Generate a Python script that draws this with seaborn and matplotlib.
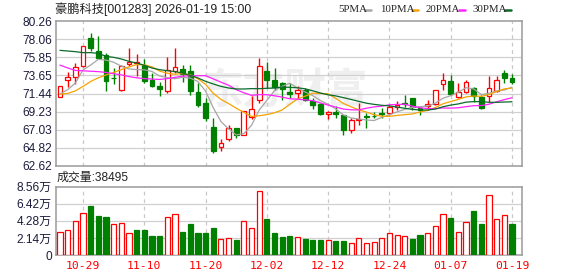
import numpy as np
import pandas as pd
import matplotlib
matplotlib.use("Agg")
import matplotlib.pyplot as plt
from matplotlib.lines import Line2D
import seaborn as sns

# ---------------- data ----------------
dates = ["10-24", "10-27", "10-28", "10-29", "10-30", "10-31",
         "11-03", "11-04", "11-05", "11-06", "11-07",
         "11-10", "11-11", "11-12", "11-13", "11-14",
         "11-17", "11-18", "11-19", "11-20", "11-21",
         "11-24", "11-25", "11-26", "11-27", "11-28",
         "12-01", "12-02", "12-03", "12-04", "12-05",
         "12-08", "12-09", "12-10", "12-11", "12-12",
         "12-15", "12-16", "12-17", "12-18", "12-19",
         "12-22", "12-23", "12-24", "12-25", "12-26",
         "12-29", "12-30", "12-31",
         "01-05", "01-06", "01-07", "01-08", "01-09",
         "01-12", "01-13", "01-14", "01-15", "01-16",
         "01-19"]

open_ = [71.05, 73.04, 73.49, 74.75, 78.19, 76.61, 76.08, 73.35, 71.83, 75.07,
         75.15, 74.95, 73.08, 72.39, 71.70, 74.14, 74.42, 74.22, 71.62, 70.28,
         67.32, 64.89, 65.95, 67.24, 66.43, 68.58, 70.61, 74.22, 73.12, 72.68,
         71.62, 71.54, 71.91, 70.49, 70.16, 68.99, 69.15, 68.78, 67.04, 68.18,
         68.70, 68.74, 69.11, 69.07, 69.76, 70.25, 70.93, 69.72, 69.96, 70.12,
         72.56, 73.00, 71.02, 71.66, 72.07, 71.06, 71.14, 71.74, 73.89, 73.37]
close = [72.31, 73.41, 74.62, 77.18, 76.98, 75.76, 73.00, 73.29, 74.83, 75.31,
         75.27, 72.92, 72.31, 72.03, 74.30, 74.62, 73.81, 71.79, 70.00, 68.46,
         64.49, 65.46, 67.24, 66.35, 69.27, 69.55, 74.75, 73.12, 72.23, 71.95,
         71.38, 71.87, 70.69, 70.00, 68.95, 69.15, 68.99, 67.04, 68.18, 68.30,
         68.58, 68.66, 68.99, 69.76, 70.05, 70.12, 69.84, 69.43, 70.12, 71.87,
         73.08, 71.38, 71.58, 72.80, 71.14, 69.64, 72.15, 73.04, 73.37, 72.88]
high = [72.40, 74.02, 75.15, 77.27, 78.80, 78.44, 76.37, 74.54, 74.91, 76.98,
        76.25, 75.60, 73.93, 72.80, 75.84, 76.98, 74.87, 74.95, 72.72, 70.89,
        68.46, 65.91, 67.57, 67.30, 69.30, 71.10, 75.76, 75.27, 74.54, 72.80,
        72.72, 72.31, 72.11, 70.89, 70.28, 69.35, 69.88, 68.80, 68.46, 70.28,
        69.07, 69.15, 69.68, 70.00, 70.49, 71.26, 70.95, 69.84, 70.65, 71.90,
        73.97, 73.69, 72.68, 73.04, 72.27, 71.26, 73.57, 73.57, 74.30, 73.77]
low = [71.00, 72.23, 72.64, 74.62, 76.65, 75.64, 71.79, 72.64, 71.79, 74.83,
       73.61, 72.72, 72.19, 71.18, 71.50, 73.93, 72.84, 71.22, 69.76, 68.05,
       64.24, 64.49, 65.70, 66.03, 66.35, 68.38, 70.28, 72.11, 71.91, 70.69,
       70.89, 70.89, 70.49, 69.60, 68.87, 68.38, 68.46, 66.43, 66.63, 67.65,
       67.24, 68.46, 68.46, 68.87, 69.48, 69.84, 69.43, 68.83, 69.55, 70.04,
       71.87, 71.26, 70.85, 71.46, 70.37, 69.55, 70.45, 71.58, 72.76, 72.60]
volume = [28400, 31300, 42200, 52600, 61400, 48900, 47600, 38400, 39700, 27100,
          31300, 31300, 23800, 23800, 47600, 50900, 28800, 38800, 27600, 27600,
          33800, 20000, 21300, 18800, 42600, 33800, 80200, 45500, 27600, 22500,
          23800, 22500, 20000, 18800, 18800, 18800, 17500, 17500, 15000, 20900,
          15000, 15900, 20900, 27100, 24600, 23400, 20000, 25100, 27100, 35900,
          50900, 46400, 28400, 40900, 55100, 38800, 74800, 45100, 49700, 38495]

# moving-average values at the start of the window (read from the chart,
# they depend on sessions before the first visible candle)
ma5_lead = [71.38, 71.90, 72.70, 74.30]
ma10_lead = [71.35, 71.45, 71.75, 72.30, 72.90, 73.35, 73.70, 74.00, 74.35]
ma20_lead = [74.90, 74.55, 74.25, 74.20, 74.15, 74.10, 74.00, 73.85, 73.70, 73.50,
             73.35, 73.25, 73.20, 73.15, 73.25, 73.40, 73.55, 73.60, 73.60]
ma30_lead = [76.69, 76.61, 76.53, 76.41, 76.41, 76.33, 75.96, 75.84, 75.64, 75.35,
             75.15, 74.87, 74.54, 74.34, 74.22, 74.10, 73.93, 73.65, 73.33, 72.92,
             72.60, 72.31, 72.11, 71.99, 71.99, 72.03, 72.03, 72.07, 72.11]

price_ticks = [62.62, 64.82, 67.03, 69.23, 71.44, 73.65, 75.85, 78.06, 80.26]
vol_ticks = [0, 21400, 42800, 64200, 85600]
vol_tick_labels = ["0", "2.14万", "4.28万", "6.42万", "8.56万"]
label_dates = ["10-29", "11-10", "11-20", "12-02", "12-12", "12-24", "01-07", "01-19"]
ma_names = ["5PMA", "10PMA", "20PMA", "30PMA"]
ma_colors = ["#a6a6a6", "#f5a300", "#ff22ff", "#0b6b2b"]
title = "豪鹏科技[001283] 2026-01-19 15:00"
vol_title = "成交量:38495"

# ---------------- styling ----------------
sns.set_theme(style="white")
plt.rcParams["font.family"] = ["Liberation Sans", "Noto Sans CJK SC", "DejaVu Sans"]

RED = "#ff0000"
GREEN = "#008000"
GRID = "#d0d0d0"
SPINE = "#9a9a9a"
TICKC = "#1c1c3c"

W, H = 578, 276
fig = plt.figure(figsize=(W / 100, H / 100), dpi=100)
fig.patch.set_facecolor("white")

ax_p = fig.add_axes([56 / W, 1 - 166 / H, 466 / W, 145 / H])
ax_v = fig.add_axes([56 / W, 1 - 255 / H, 466 / W, 68.3 / H])

df = pd.DataFrame({"date": dates, "open": open_, "close": close,
                   "high": high, "low": low, "volume": volume})
df["idx"] = np.arange(len(df))
up = df["close"] >= df["open"]
prev_close = df["close"].shift(1).fillna(df["open"])
vol_up = df["close"] >= prev_close

# moving averages
ma_frames = []
for name, n, lead in zip(ma_names, [5, 10, 20, 30], [ma5_lead, ma10_lead, ma20_lead, ma30_lead]):
    m = df["close"].rolling(n).mean().to_numpy()
    m[: n - 1] = lead
    ma_frames.append(pd.DataFrame({"idx": df["idx"], "value": m, "ma": name}))
ma_df = pd.concat(ma_frames, ignore_index=True)

# ---- price panel ----
x = df["idx"].to_numpy()
col = np.where(up, RED, GREEN)
face = np.where(up, "white", GREEN)
ax_p.vlines(x, df["low"], df["high"], colors=col, lw=1.0, zorder=3)
body = np.maximum((df["close"] - df["open"]).abs(), 0.045)
ax_p.bar(x, body, bottom=np.minimum(df["open"], df["close"]), width=0.62,
         color=face, edgecolor=col, linewidth=0.9, zorder=4)

sns.lineplot(data=ma_df, x="idx", y="value", hue="ma", hue_order=ma_names,
             palette=dict(zip(ma_names, ma_colors)), legend=False, lw=0.9,
             ax=ax_p, zorder=5)

ax_p.text(0.49, 0.52, "东方财富", transform=ax_p.transAxes, ha="center", va="center",
          fontsize=30, fontweight="bold", style="italic", color="#efefef",
          family=["Noto Sans CJK SC"], zorder=1)

# ---- volume panel ----
vcol = np.where(vol_up, RED, GREEN)
vface = np.where(vol_up, "white", GREEN)
ax_v.bar(x, df["volume"], width=0.68, color=vface, edgecolor=vcol,
         linewidth=0.9, zorder=3)

# ---- axes formatting ----
tick_pos = [dates.index(d) for d in label_dates]
for ax in (ax_p, ax_v):
    ax.set_xlim(-0.52, 60.3)
    ax.set_facecolor("white")
    for s in ax.spines.values():
        s.set_color(SPINE)
        s.set_linewidth(1.1)
    ax.grid(False)
    for t in tick_pos:
        ax.axvline(t, color="#c8c8c8", lw=0.9, ls=(0, (3, 3)), zorder=1)
    ax.set_xlabel("")
    ax.set_ylabel("")
    ax.tick_params(axis="y", length=0, pad=3, labelsize=8.6, labelcolor=TICKC)

ax_p.set_ylim(62.62, 80.26)
ax_p.set_yticks(price_ticks)
ax_p.set_yticklabels([f"{v:.2f}" for v in price_ticks])
for v in price_ticks[1:-1]:
    ax_p.axhline(v, color=GRID, lw=0.9, zorder=1)
ax_p.set_xticks([])

ax_v.set_ylim(0, 85600)
ax_v.set_yticks(vol_ticks)
ax_v.set_yticklabels(vol_tick_labels)
for v in vol_ticks[1:-1]:
    ax_v.axhline(v, color=GRID, lw=0.9, zorder=1)
ax_v.set_xticks(tick_pos)
ax_v.set_xticklabels(label_dates)
ax_v.tick_params(axis="x", length=0, pad=4.5, labelsize=8.2, labelcolor=RED)
for lab in ax_v.get_xticklabels():
    lab.set_family(["DejaVu Sans Mono"])

# ---- texts ----
fig.text(55 / W, 1 - 9.5 / H, title, ha="left", va="center", fontsize=8.8, color="#222222")
fig.text(57 / W, 1 - 178 / H, vol_title, ha="left", va="center", fontsize=8.6, color="#222222")

leg_x = [338, 380, 426, 472]
dash_x = [365, 412, 459, 505]
for name, c, lx, dx in zip(ma_names, ma_colors, leg_x, dash_x):
    fig.text(lx / W, 1 - 9 / H, name, ha="left", va="center", fontsize=7.8,
             color="#222222", family=["Liberation Serif"])
    fig.add_artist(Line2D([dx / W, (dx + 6) / W], [1 - 9.5 / H, 1 - 9.5 / H],
                          transform=fig.transFigure, color=c, lw=1.8))

fig.savefig("out.png", dpi=100, facecolor="white")
